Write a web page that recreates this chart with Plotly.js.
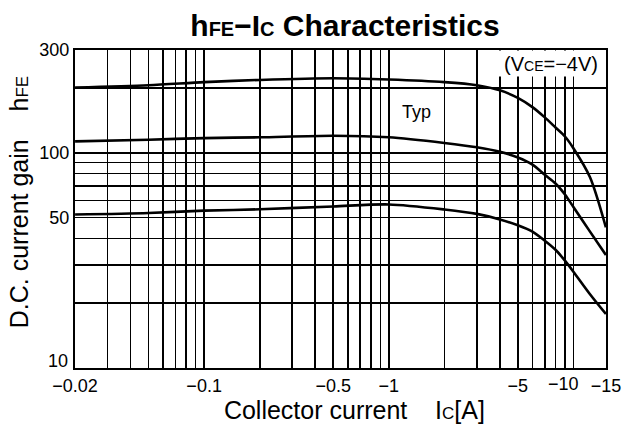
<!DOCTYPE html>
<html>
<head>
<meta charset="utf-8">
<script src="https://cdn.plot.ly/plotly-3.0.1.min.js"></script>
<style>
html, body { margin: 0; padding: 0; background: #fff; }
#chart { width: 637px; height: 425px; }
</style>
</head>
<body>
<div id="chart"></div>
<script>
// Collector current magnitude |Ic| in A (axis labels shown as negative values)
const collectorCurrent = [0.02, 0.05, 0.1, 0.2, 0.5, 1, 2, 3, 4, 5, 6, 7, 8, 9, 10, 12.3, 15];
const hfeUpper  = [201, 206, 213, 218, 222, 219, 213, 206, 195, 180, 163, 146, 131, 119, 105, 77, 45];
const hfeMiddle = [113, 115, 117, 118, 120, 118, 111, 106, 101, 95, 88, 79, 72, 64, 56, 43, 33.5];
const hfeLower  = [51.6, 52.5, 53.8, 54.6, 56.3, 57.5, 54.5, 52, 49, 46, 43, 39, 35.4, 31.5, 28, 22, 17.8];

const xTickVals = [0.02, 0.1, 0.5, 1, 5, 10, 15];
const xTickText = ['\u22120.02', '\u22120.1', '\u22120.5', '\u22121', '\u22125', '\u221210', '\u221215'];
const xGridVals = [0.03, 0.04, 0.05, 0.06, 0.07, 0.08, 0.09, 0.2, 0.3, 0.4, 0.6, 0.7, 0.8, 0.9, 2, 3, 4, 6, 7, 8, 9];
const yTickVals = [10, 50, 100, 300];
const yTickText = ['10', '50', '100', '300'];
const yGridVals = [20, 30, 40, 60, 70, 80, 90, 200];

const FONT = 'Liberation Sans, Arial, Helvetica, sans-serif';
const TICK_FONT = { family: FONT, size: 18, color: '#000' };

// Crowded labels (x = 10 and y = 10) are nudged away from their neighbours, as in the original
const xNudged = 10, yNudged = 10;
const xAxisText = xTickVals.map(function (v, i) { return v === xNudged ? '' : xTickText[i]; });
const yAxisText = yTickVals.map(function (v, i) { return v === yNudged ? '' : yTickText[i]; });

const curveStyle = { color: '#000', width: 2.6, shape: 'spline', smoothing: 0.8 };
const traces = [hfeUpper, hfeMiddle, hfeLower].map(function (ys) {
  return { x: collectorCurrent, y: ys, type: 'scatter', mode: 'lines', line: curveStyle, hoverinfo: 'skip', showlegend: false };
});

const gridStyle = { showgrid: true, gridcolor: '#000', gridwidth: 1.6 };
const NB = '\u00a0', ZW = '\u200b';

const layout = {
  width: 637, height: 425,
  margin: { l: 75, r: 31, t: 50, b: 57, pad: 0 },
  paper_bgcolor: '#fff', plot_bgcolor: '#fff',
  font: { family: FONT, color: '#000', size: 18 },
  showlegend: false,
  title: {
    text: 'h<span style="font-size:20px">FE</span>\u2212I<span style="font-size:20px">C</span> Characteristics',
    font: { family: FONT, size: 30, color: '#000', weight: 700 },
    xref: 'container', x: 0.5416, xanchor: 'center',
    yref: 'container', y: 0.94, yanchor: 'middle'
  },
  xaxis: Object.assign({
    type: 'log',
    range: [Math.log10(0.02) - 0.0005, Math.log10(15) + 0.0005],
    tickmode: 'array', tickvals: xTickVals, ticktext: xAxisText, tickangle: 0,
    ticks: '',
    minor: Object.assign({ tickmode: 'array', tickvals: xGridVals, ticks: '' }, gridStyle),
    showline: true, mirror: true, linecolor: '#000', linewidth: 2,
    zeroline: false, tickfont: TICK_FONT,
    title: {
      text: ZW + NB.repeat(4) + 'Collector current' + NB.repeat(4) + 'I<span style="font-size:17px">C</span>[A]',
      font: { family: FONT, size: 25, color: '#000' }, standoff: 6
    },
    fixedrange: true
  }, gridStyle),
  yaxis: Object.assign({
    type: 'log',
    range: [1 - 0.0005, Math.log10(300) + 0.0005],
    tickmode: 'array', tickvals: yTickVals, ticktext: yAxisText,
    ticks: '',
    minor: Object.assign({ tickmode: 'array', tickvals: yGridVals, ticks: '' }, gridStyle),
    showline: true, mirror: true, linecolor: '#000', linewidth: 2,
    zeroline: false, tickfont: TICK_FONT,
    title: {
      text: ZW + NB.repeat(2) + 'D.C. current gain' + NB.repeat(4) + 'h<span style="font-size:17px">FE</span>',
      font: { family: FONT, size: 25, color: '#000' }, standoff: 4
    },
    fixedrange: true
  }, gridStyle),
  annotations: [
    {
      text: xTickText[xTickVals.indexOf(xNudged)],
      xref: 'x', yref: 'paper', x: Math.log10(xNudged), y: 0,
      xanchor: 'center', yanchor: 'middle', xshift: -10, yshift: -16,
      showarrow: false, borderpad: 0, font: TICK_FONT
    },
    {
      text: yTickText[yTickVals.indexOf(yNudged)],
      xref: 'paper', yref: 'y', x: 0, y: Math.log10(yNudged),
      xanchor: 'right', yanchor: 'middle', xshift: -6, yshift: 7,
      showarrow: false, borderpad: 0, font: TICK_FONT
    },
    {
      text: '(V<span style="font-size:14px">CE</span>=\u22124V)',
      xref: 'paper', yref: 'paper', x: 0.8955, y: 0.956,
      xanchor: 'center', yanchor: 'middle', showarrow: false,
      width: 106, height: 25, bgcolor: '#fff', borderpad: 0,
      font: { family: FONT, size: 20, color: '#000' }
    },
    {
      text: 'Typ',
      xref: 'x', yref: 'y', x: Math.log10(1.41), y: Math.log10(155),
      xanchor: 'center', yanchor: 'middle', showarrow: false,
      font: { family: FONT, size: 18, color: '#000' }
    }
  ]
};

Plotly.newPlot('chart', traces, layout, { staticPlot: true, displayModeBar: false });
</script>
</body>
</html>
